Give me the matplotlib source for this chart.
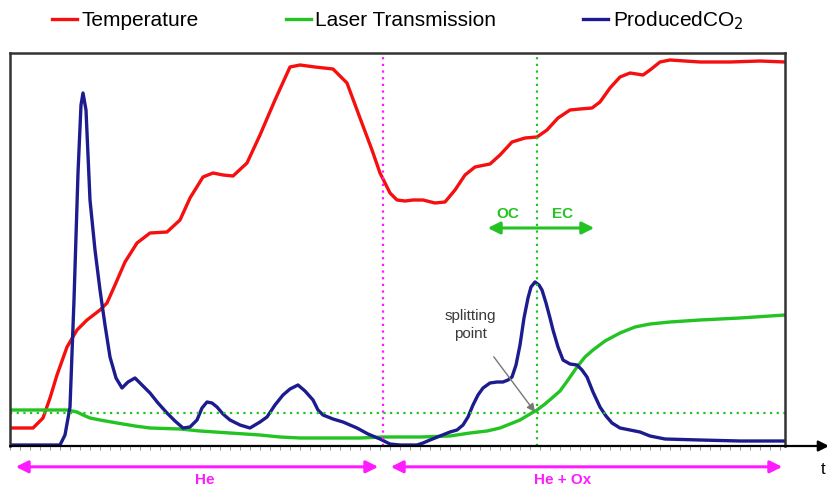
import matplotlib

matplotlib.use("Agg")
import matplotlib.pyplot as plt
from matplotlib.ticker import MultipleLocator

plt.rcParams["font.family"] = ["Liberation Sans", "DejaVu Sans"]

# time axis in arbitrary units, signals in arbitrary units (0 = baseline)
temp_t = [0, 23, 33, 40, 47, 57, 67, 77, 90, 97, 105, 115, 127, 140, 157, 170, 180, 193, 203, 213,
          223, 237, 250, 265, 280, 290, 305, 323, 337, 350, 362, 370, 380, 387, 395, 403, 413, 425, 435, 445,
          455, 465, 480, 490, 502, 515, 527, 537, 548, 560, 570, 582, 590, 600, 610, 620, 633, 640, 650, 660,
          675, 690, 720, 750, 775]
temp_v = [18, 18, 28, 48, 71, 99, 116, 126, 136, 143, 161, 184, 203, 213, 214, 226, 248, 269, 273, 271,
          270, 283, 311, 346, 379, 381, 379, 377, 363, 328, 296, 273, 253, 246, 245, 246, 246, 243, 244, 256,
          271, 279, 282, 291, 304, 308, 309, 316, 328, 336, 337, 338, 344, 358, 369, 373, 371, 376, 384, 386,
          385, 384, 384, 385, 384]

laser_t = [0, 57, 67, 73, 80, 90, 107, 125, 140, 170, 190, 220, 250, 270, 290, 320, 350, 373, 410, 440,
           460, 477, 490, 500, 510, 520, 527, 535, 542, 550, 558, 567, 575, 583, 595, 610, 625, 640, 660, 690,
           730, 775]
laser_v = [36, 36, 34, 31, 28, 26, 23, 20, 18, 17, 15, 13, 11, 9, 8, 8, 8, 9, 9, 10,
           13, 15, 18, 22, 26, 32, 36, 42, 48, 55, 66, 79, 89, 96, 105, 113, 119, 122, 124, 126,
           128, 131]

co2_t = [0, 50, 55, 60, 64, 68, 71, 73, 76, 80, 85, 90, 95, 100, 106, 112, 118, 125, 132, 140,
         148, 157, 165, 173, 180, 187, 192, 197, 202, 207, 213, 220, 230, 240, 250, 257, 265, 273, 280, 288,
         295, 303, 308, 313, 323, 333, 340, 347, 358, 370, 380, 390, 407, 413, 420, 430, 440, 447, 453, 458,
         463, 468, 473, 480, 487, 493, 498, 502, 506, 510, 514, 518, 521, 525, 529, 532, 536, 540, 543, 548,
         553, 560, 567, 572, 577, 583, 590, 596, 602, 610, 620, 630, 640, 655, 690, 730, 775]
co2_v = [1, 1, 11, 39, 146, 273, 341, 353, 336, 246, 196, 156, 121, 89, 68, 58, 64, 68, 61, 53,
         43, 33, 25, 18, 19, 26, 38, 44, 43, 39, 32, 26, 21, 18, 24, 29, 41, 51, 57, 61,
         55, 46, 36, 31, 27, 24, 21, 18, 12, 7, 2, 1, 1, 3, 6, 10, 14, 16, 21, 29,
         41, 51, 58, 63, 64, 64, 66, 69, 81, 101, 128, 148, 159, 164, 161, 156, 143, 128, 116, 99,
         86, 82, 81, 76, 69, 54, 39, 30, 23, 18, 16, 14, 10, 7, 6, 5, 5]

t_switch = 373      # He -> He + Ox
t_split = 527       # splitting point between OC and EC
split_level = 33    # laser transmission threshold
t_max = 775

# gas phases: (start, end, label position, label)
phases = [(3, t_switch - 2, 195, "He"), (t_switch + 5, t_max, 553, "He + Ox")]

RED = "#f50f0f"
GREEN = "#22c322"
BLUE = "#1c1c8f"
MAGENTA = "#ff1aff"

fig = plt.figure(figsize=(8.28, 4.87), dpi=100)
ax = fig.add_axes([10 / 828, 41 / 487, 775 / 828, 393 / 487])
ax.set_xlim(0, t_max)
ax.set_ylim(0, 393)

ax.plot(temp_t, temp_v, color=RED, lw=2.4, solid_joinstyle="round", label="Temperature")
ax.plot(laser_t, laser_v, color=GREEN, lw=2.4, solid_joinstyle="round", label="Laser Transmission")
ax.plot(co2_t, co2_v, color=BLUE, lw=2.4, solid_joinstyle="round", label="ProducedCO$_2$")

ax.axvline(t_switch, color=MAGENTA, ls=(0, (1, 2)), lw=1.6)
ax.axvline(t_split, color=GREEN, ls=(0, (1, 2)), lw=1.6)
ax.axhline(split_level, color=GREEN, ls=(0, (1, 2)), lw=1.6)

# OC / EC range arrow
ax.annotate("", xy=(475, 218), xytext=(587, 218),
            arrowprops=dict(arrowstyle="<|-|>", color=GREEN, lw=2.2, mutation_scale=18))
ax.text(498, 232, "OC", color=GREEN, fontsize=11, fontweight="bold", ha="center", va="center")
ax.text(553, 232, "EC", color=GREEN, fontsize=11, fontweight="bold", ha="center", va="center")

ax.annotate("splitting\npoint", xy=(t_split - 2, split_level + 1), xytext=(460, 121),
            ha="center", va="center", fontsize=11, color="#3a3a3a", linespacing=1.3,
            arrowprops=dict(arrowstyle="-|>", color="#777777", lw=1.0, mutation_scale=12,
                            shrinkA=12, shrinkB=0))

# gas phases below the time axis
for t0, t1, t_label, label in phases:
    ax.annotate("", xy=(t1, -0.053), xytext=(t0, -0.053),
                xycoords=("data", "axes fraction"), textcoords=("data", "axes fraction"),
                arrowprops=dict(arrowstyle="<|-|>", color=MAGENTA, lw=2.2, mutation_scale=18),
                annotation_clip=False)
    ax.text(t_label, -0.087, label, transform=ax.get_xaxis_transform(),
            color=MAGENTA, fontsize=11, fontweight="bold", ha="center", va="center")

# frame and time axis arrow
for side in ("top", "left", "right"):
    ax.spines[side].set_color("#333333")
    ax.spines[side].set_linewidth(1.8)
ax.spines["bottom"].set_visible(False)
ax.annotate("", xy=(1.057, 0), xytext=(0, 0), xycoords="axes fraction",
            arrowprops=dict(arrowstyle="-|>", color="black", lw=1.6, mutation_scale=16, shrinkA=0, shrinkB=0),
            annotation_clip=False)
ax.set_yticks([])
ax.xaxis.set_major_locator(MultipleLocator(10))
ax.tick_params(axis="x", length=3, width=0.6, color="#888888", labelbottom=False)
fig.text(0.991, 0.035, "t", fontsize=12, ha="left", va="center")

fig.legend(loc="upper left", bbox_to_anchor=(0.04, 1.02), ncol=3, frameon=False,
           fontsize=15, handlelength=1.2, handletextpad=0.2, columnspacing=4.2)

fig.savefig("out.png", dpi=100)
